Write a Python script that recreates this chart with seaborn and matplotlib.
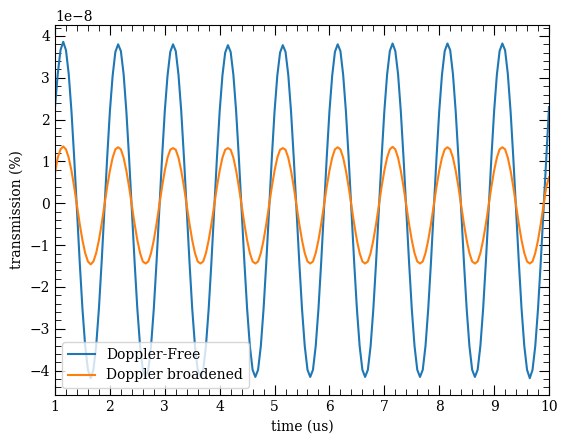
import numpy as np
import pandas as pd
import matplotlib
matplotlib.use("Agg")
import matplotlib.pyplot as plt
import seaborn as sns

# time axis (us), sampled every 0.05
time_us = np.round(np.arange(1.0, 10.0001, 0.05), 2)

# Doppler-free signal (units of 1e-8)
doppler_free = [
    2.30, 3.09, 3.66, 3.86, 3.66, 3.09, 2.20, 1.08, -0.16, -1.40, -2.52, -3.41, -3.98, -4.18, -3.98, -3.41, -2.52, -1.40, -0.16, 1.08,
    2.20, 3.05, 3.62, 3.80, 3.64, 3.09, 2.20, 1.08, -0.16, -1.40, -2.52, -3.41, -3.98, -4.15, -3.98, -3.41, -2.52, -1.40, -0.16, 1.08,
    2.20, 3.05, 3.62, 3.80, 3.64, 3.07, 2.20, 1.08, -0.16, -1.40, -2.52, -3.41, -3.98, -4.15, -3.98, -3.41, -2.52, -1.40, -0.16, 1.08,
    2.20, 3.05, 3.60, 3.78, 3.62, 3.07, 2.20, 1.08, -0.16, -1.40, -2.52, -3.41, -3.98, -4.15, -3.98, -3.41, -2.52, -1.40, -0.16, 1.08,
    2.20, 3.05, 3.60, 3.78, 3.62, 3.07, 2.20, 1.08, -0.16, -1.40, -2.52, -3.41, -3.98, -4.15, -3.98, -3.41, -2.52, -1.40, -0.16, 1.08,
    2.20, 3.05, 3.62, 3.80, 3.64, 3.07, 2.20, 1.08, -0.16, -1.40, -2.52, -3.41, -3.98, -4.15, -3.98, -3.41, -2.52, -1.40, -0.16, 1.08,
    2.20, 3.07, 3.64, 3.82, 3.64, 3.09, 2.20, 1.08, -0.16, -1.40, -2.52, -3.41, -3.98, -4.15, -3.98, -3.41, -2.52, -1.40, -0.16, 1.08,
    2.20, 3.07, 3.64, 3.82, 3.66, 3.09, 2.20, 1.08, -0.16, -1.40, -2.52, -3.41, -3.98, -4.15, -3.98, -3.41, -2.52, -1.40, -0.16, 1.08,
    2.20, 3.07, 3.64, 3.82, 3.66, 3.09, 2.20, 1.08, -0.16, -1.40, -2.52, -3.41, -3.98, -4.18, -3.98, -3.41, -2.52, -1.40, -0.16, 1.08,
    2.30,
]

# Doppler broadened signal (units of 1e-8)
doppler_broad = [
    0.72, 1.09, 1.29, 1.36, 1.29, 1.09, 0.78, 0.39, -0.05, -0.49, -0.88, -1.19, -1.39, -1.46, -1.39, -1.19, -0.88, -0.49, -0.05, 0.39,
    0.78, 1.09, 1.29, 1.34, 1.29, 1.09, 0.78, 0.39, -0.05, -0.49, -0.88, -1.19, -1.39, -1.44, -1.39, -1.19, -0.88, -0.49, -0.05, 0.39,
    0.78, 1.09, 1.28, 1.32, 1.28, 1.09, 0.78, 0.39, -0.05, -0.49, -0.88, -1.19, -1.39, -1.44, -1.39, -1.19, -0.88, -0.49, -0.05, 0.39,
    0.78, 1.09, 1.28, 1.32, 1.28, 1.09, 0.78, 0.39, -0.05, -0.49, -0.88, -1.19, -1.39, -1.44, -1.39, -1.19, -0.88, -0.49, -0.05, 0.39,
    0.78, 1.09, 1.28, 1.32, 1.28, 1.09, 0.78, 0.39, -0.05, -0.49, -0.88, -1.19, -1.39, -1.44, -1.39, -1.19, -0.88, -0.49, -0.05, 0.39,
    0.78, 1.09, 1.29, 1.34, 1.29, 1.09, 0.78, 0.39, -0.05, -0.49, -0.88, -1.19, -1.39, -1.44, -1.39, -1.19, -0.88, -0.49, -0.05, 0.39,
    0.78, 1.09, 1.29, 1.35, 1.29, 1.09, 0.78, 0.39, -0.05, -0.49, -0.88, -1.19, -1.39, -1.44, -1.39, -1.19, -0.88, -0.49, -0.05, 0.39,
    0.78, 1.09, 1.29, 1.34, 1.29, 1.09, 0.78, 0.39, -0.05, -0.49, -0.88, -1.19, -1.39, -1.44, -1.39, -1.19, -0.88, -0.49, -0.05, 0.39,
    0.78, 1.09, 1.29, 1.34, 1.29, 1.09, 0.78, 0.39, -0.05, -0.49, -0.88, -1.19, -1.39, -1.44, -1.39, -1.19, -0.88, -0.49, -0.05, 0.39,
    0.62,
]

plt.rcParams['font.family'] = ['DejaVu Serif']

df = pd.DataFrame({
    'time': time_us,
    'free': np.array(doppler_free) * 1e-8,
    'broad': np.array(doppler_broad) * 1e-8,
})

fig = plt.figure(figsize=(5.69, 4.43), dpi=100)
ax = fig.add_axes([55 / 569, 1 - 395 / 443, (549 - 55) / 569, (395 - 25) / 443])

sns.lineplot(data=df, x='time', y='free', ax=ax, label='Doppler-Free', color='#1f77b4', linewidth=1.5)
sns.lineplot(data=df, x='time', y='broad', ax=ax, label='Doppler broadened', color='#ff7f0e', linewidth=1.5)

ax.set_xlim(1, 10)
ax.set_xlabel('time (us)')
ax.set_ylabel('transmission (%)')
ax.minorticks_on()
ax.tick_params(which='both', direction='in', top=True, right=True)
ax.tick_params(which='major', length=7)
ax.tick_params(which='minor', length=4)
ax.legend(loc='lower left')

fig.savefig('out.png', dpi=100)
